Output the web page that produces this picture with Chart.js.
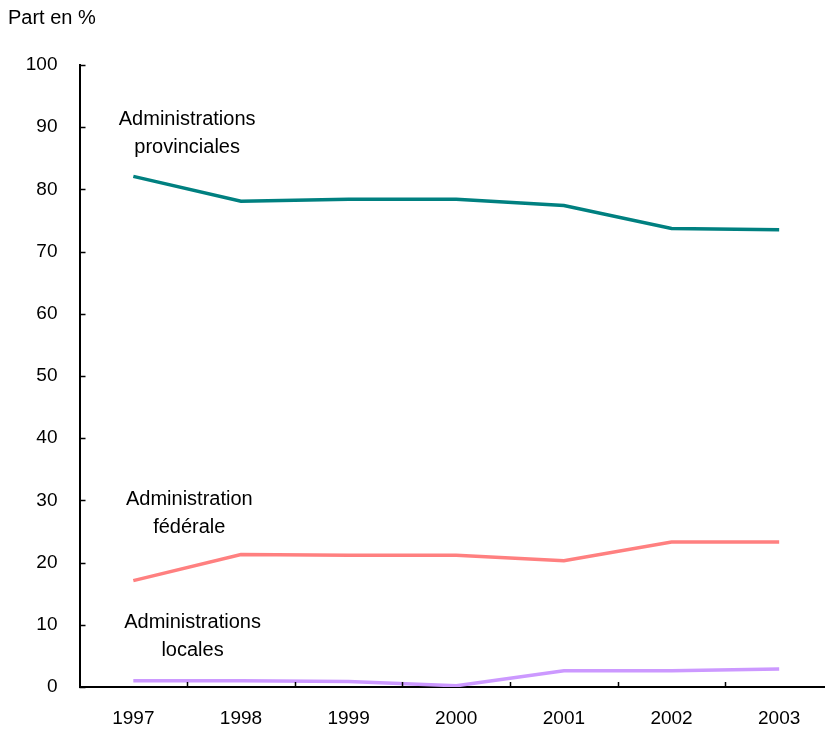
<!DOCTYPE html>
<html lang="fr">
<head>
<meta charset="utf-8">
<title>Part en %</title>
<script src="https://cdn.jsdelivr.net/npm/chart.js@4"></script>
<style>
  html, body { margin: 0; padding: 0; background: #fff; overflow: hidden; }
  #chart { display: block; }
</style>
</head>
<body>
<!-- the plot runs a few pixels past the right edge of the window -->
<canvas id="chart" width="833" height="729"></canvas>
<script>
// years on the x axis
const years = ['1997', '1998', '1999', '2000', '2001', '2002', '2003'];

// share of each level of government, in %
const provinciales = [82.1, 78.1, 78.4, 78.4, 77.4, 73.7, 73.5];
const federale = [17.1, 21.3, 21.2, 21.2, 20.3, 23.3, 23.3];
const locales = [1.0, 1.0, 0.9, 0.2, 2.6, 2.6, 2.9];

// y axis ticks
const yTicks = [0, 10, 20, 30, 40, 50, 60, 70, 80, 90, 100];

// series labels written inside the plot: lines, x in category units, y in %
const seriesLabels = [
    { lines: ['Administrations', 'provinciales'], x: 0.5, y: 91.3 },
    { lines: ['Administration', 'fédérale'], x: 0.52, y: 30.2 },
    { lines: ['Administrations', 'locales'], x: 0.55, y: 10.4 }
];

const FONT = '"Liberation Sans", Arial, sans-serif';

// inward tick marks on both axes
const innerTicks = {
    id: 'innerTicks',
    afterDraw(chart) {
        const ctx = chart.ctx;
        const x = chart.scales.x, y = chart.scales.y;
        ctx.save();
        ctx.strokeStyle = '#000';
        ctx.lineWidth = 1.5;
        ctx.beginPath();
        y.ticks.forEach((t, i) => {
            const py = Math.round(y.getPixelForTick(i)) + 0.5;
            ctx.moveTo(x.left, py);
            ctx.lineTo(x.left + 6, py);
        });
        for (let i = 1; i < years.length; i++) {
            const px = Math.round((x.getPixelForTick(i - 1) + x.getPixelForTick(i)) / 2) + 0.5;
            ctx.moveTo(px, y.bottom);
            ctx.lineTo(px, y.bottom - 5);
        }
        ctx.stroke();
        ctx.restore();
    }
};

// unit caption and series names
const textLabels = {
    id: 'textLabels',
    afterDraw(chart) {
        const ctx = chart.ctx;
        const x = chart.scales.x, y = chart.scales.y;
        ctx.save();
        ctx.fillStyle = '#000';
        ctx.font = '20px ' + FONT;
        ctx.textBaseline = 'middle';
        ctx.textAlign = 'left';
        ctx.fillText('Part en %', 8, 18);
        ctx.textAlign = 'center';
        seriesLabels.forEach(l => {
            const px = x.getPixelForValue(l.x);
            const py = y.getPixelForValue(l.y);
            l.lines.forEach((line, i) => ctx.fillText(line, px, py + i * 28));
        });
        ctx.restore();
    }
};

const lineStyle = { borderWidth: 3.5, pointRadius: 0, tension: 0, fill: false };

new Chart(document.getElementById('chart'), {
    type: 'line',
    data: {
        labels: years,
        datasets: [
            { label: 'Administrations provinciales', data: provinciales, borderColor: '#008080', ...lineStyle },
            { label: 'Administration fédérale', data: federale, borderColor: '#FF8080', ...lineStyle },
            { label: 'Administrations locales', data: locales, borderColor: '#CC99FF', ...lineStyle }
        ]
    },
    options: {
        responsive: false,
        animation: false,
        layout: { padding: { top: 65, right: 0, left: 0, bottom: 0 } },
        plugins: { legend: { display: false }, tooltip: { enabled: false } },
        scales: {
            x: {
                offset: true,
                grid: { display: false, drawTicks: false },
                border: { display: true, color: '#000', width: 2 },
                ticks: { color: '#000', font: { family: FONT, size: 19 }, padding: 20, maxRotation: 0 },
                afterFit(scale) { scale.height = 42; }
            },
            y: {
                min: 0,
                max: 100,
                afterBuildTicks(scale) { scale.ticks = yTicks.map(v => ({ value: v })); },
                grid: { display: false, drawTicks: false },
                border: { display: true, color: '#000', width: 2 },
                ticks: { color: '#000', font: { family: FONT, size: 19 }, padding: 22 },
                afterFit(scale) { scale.width = 79.5; }
            }
        }
    },
    plugins: [innerTicks, textLabels]
});
</script>
</body>
</html>
